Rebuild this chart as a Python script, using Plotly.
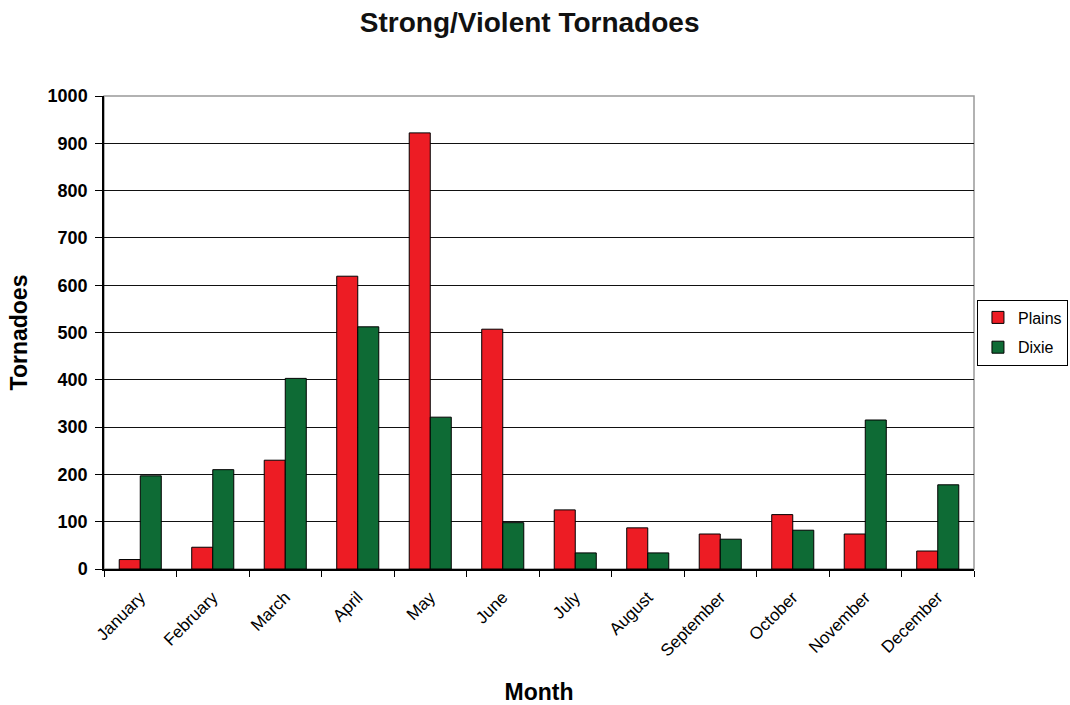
import plotly.graph_objects as go

months = ["January", "February", "March", "April", "May", "June", "July",
          "August", "September", "October", "November", "December"]
plains = [20, 46, 230, 619, 922, 507, 125, 87, 74, 115, 74, 38]
dixie = [197, 210, 403, 512, 321, 98, 34, 34, 63, 82, 315, 178]

FONT = "Liberation Sans, Arial, sans-serif"

fig = go.Figure()
fig.add_trace(go.Bar(x=months, y=plains, name="Plains", legendgroup="p",
                     marker=dict(color="#ED1C24", line=dict(color="black", width=1))))
fig.add_trace(go.Bar(x=months, y=dixie, name="Dixie", legendgroup="d",
                     marker=dict(color="#0E6B35", line=dict(color="black", width=1))))

fig.update_layout(
    width=1070, height=705,
    margin=dict(l=104, r=96, t=96, b=136, autoexpand=False),
    paper_bgcolor="white", plot_bgcolor="white",
    barmode="group", bargap=0.42, bargroupgap=0,
    font=dict(family=FONT, color="black"),
    title=dict(text="<b>Strong/Violent Tornadoes</b>", x=0.495, xanchor="center",
               y=0.968, yanchor="middle", font=dict(size=28, family=FONT, color="#111")),
    legend=dict(x=1.108, xanchor="right", y=0.5, yanchor="middle",
                bordercolor="black", borderwidth=1, font=dict(size=16, family=FONT),
                itemwidth=30, tracegroupgap=6),
    showlegend=True,
)
fig.update_xaxes(
    tickangle=-45, tickfont=dict(size=17, family=FONT),
    showline=True, linecolor="black", linewidth=1.5,
    ticks="outside", tickson="boundaries", ticklen=6, tickcolor="black",
    ticklabelstandoff=10,
    title=dict(text="<b>Month</b>", font=dict(size=23, family=FONT), standoff=26),
    showgrid=False, mirror=False,
)
fig.update_yaxes(
    range=[0, 1000], dtick=100, tickfont=dict(size=18, family=FONT),
    tickprefix="<b>", ticksuffix="</b>",
    showline=True, linecolor="black", linewidth=1.5,
    ticks="outside", ticklen=7, tickcolor="black",
    ticklabelstandoff=4,
    showgrid=True, gridcolor="#111", gridwidth=1,
    title=dict(text="<b>Tornadoes</b>", font=dict(size=23, family=FONT), standoff=14),
    zeroline=False,
)
fig.add_shape(type="rect", xref="paper", yref="paper", x0=0, x1=1, y0=0, y1=1,
              line=dict(color="#999", width=1.5), layer="below")

fig.write_html("out.html")
